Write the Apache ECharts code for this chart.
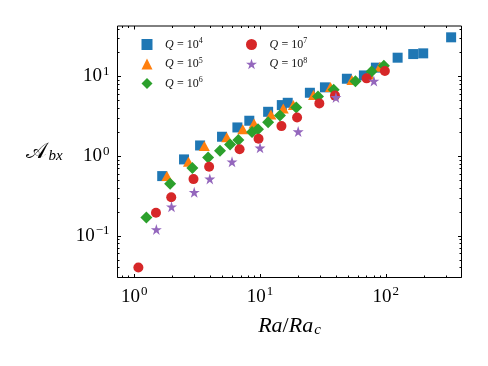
<!DOCTYPE html>
<html>
<head>
<meta charset="utf-8">
<script src="https://cdn.jsdelivr.net/npm/echarts@6/dist/echarts.min.js"></script>
<style>
  html, body { margin: 0; padding: 0; background: #fff; }
  #chart { width: 488px; height: 366px; }
</style>
</head>
<body>
<div id="chart"></div>
<script>
// Q = 10^4 .. 10^8, x = Ra/Ra_c, y = A_bx
const qExps = [4, 5, 6, 7, 8];

const q4Ra = [1.67, 2.49, 3.34, 4.99, 6.61, 8.22, 11.6, 14.9, 16.6, 24.9, 32.8, 49.0, 66.9, 83.3, 124, 165, 198, 330];
const q4A  = [0.561, 0.909, 1.36, 1.75, 2.29, 2.78, 3.60, 4.37, 4.67, 6.24, 7.30, 9.36, 10.3, 12.9, 17.2, 19.1, 19.5, 31.0];

const q5Ra = [1.82, 2.70, 3.61, 5.44, 7.29, 8.96, 12.2, 15.3, 18.4, 26.6, 36.3, 53.7, 73.7, 89.6];
const q5A  = [0.561, 0.848, 1.34, 1.72, 2.18, 2.57, 3.34, 3.97, 4.37, 5.84, 7.36, 9.01, 10.6, 13.2];

const q6Ra = [1.25, 1.93, 2.90, 3.87, 4.81, 5.78, 6.73, 8.64, 9.64, 11.6, 14.4, 19.4, 28.9, 38.5, 57.3, 77.0, 96.4];
const q6A  = [0.170, 0.451, 0.707, 0.963, 1.17, 1.40, 1.59, 2.00, 2.17, 2.67, 3.23, 4.07, 5.62, 6.81, 8.68, 11.5, 13.6];

const q7Ra = [1.08, 1.49, 1.97, 2.96, 3.94, 6.88, 9.73, 14.8, 19.7, 29.6, 39.4, 70.3, 98.2];
const q7A  = [0.040, 0.194, 0.305, 0.514, 0.734, 1.22, 1.65, 2.38, 3.06, 4.59, 5.75, 9.46, 11.7];

const q8Ra = [1.50, 1.98, 3.00, 3.99, 5.99, 10.0, 20.1, 40.1, 80.3];
const q8A  = [0.120, 0.231, 0.351, 0.517, 0.848, 1.27, 2.03, 5.46, 8.75];

// tick values
const xMajor = [1, 10, 100];
const xMinor = [0.8, 0.9, 2, 3, 4, 5, 6, 7, 8, 9, 20, 30, 40, 50, 60, 70, 80, 90, 200, 300];
const yMajor = [0.1, 1, 10];
const yMinor = [0.03, 0.04, 0.05, 0.06, 0.07, 0.08, 0.09, 0.2, 0.3, 0.4, 0.5, 0.6, 0.7, 0.8, 0.9,
                2, 3, 4, 5, 6, 7, 8, 9, 20, 30, 40];

const xMin = 0.737, xMax = 399;
const yMin = 0.0299, yMax = 43;

const starPath = 'path://M0,-1L0.2245,-0.309L0.951,-0.309L0.363,0.118L0.588,0.809L0,0.382L-0.588,0.809L-0.363,0.118L-0.951,-0.309L-0.2245,-0.309Z';

const serif = 'Liberation Serif';
const zip = (a, b) => a.map((v, i) => [v, b[i]]);
const qName = e => 'Q = 10^' + e;

const seriesDefs = [
  { x: q4Ra, y: q4A, color: '#1f77b4', symbol: 'rect', size: 10 },
  { x: q5Ra, y: q5A, color: '#ff7f0e', symbol: 'triangle', size: [11, 10] },
  { x: q6Ra, y: q6A, color: '#2ca02c', symbol: 'diamond', size: 12 },
  { x: q7Ra, y: q7A, color: '#d62728', symbol: 'circle', size: 10 },
  { x: q8Ra, y: q8A, color: '#9467bd', symbol: starPath, size: 11 }
];

function powLabel(v) {
  const l = Math.log10(v);
  const e = Math.round(l);
  if (Math.abs(l - e) > 1e-6) return '';
  return '{b|10}{s|' + String(e).replace('-', '\u2212') + '}';
}

const labelRich = {
  b: { fontFamily: serif, fontSize: 19, color: '#000' },
  s: { fontFamily: serif, fontSize: 13, color: '#000', padding: [0, 0, 10, 1] }
};

const legendText = {
  rich: {
    q: { fontFamily: serif, fontStyle: 'italic', fontSize: 12, color: '#111', padding: [0, 0, 0, 7.5] },
    t: { fontFamily: serif, fontSize: 12, color: '#111' },
    s: { fontFamily: serif, fontSize: 8, color: '#111', padding: [0, 0, 7, 0] }
  }
};
const legendFmt = name => '{q|Q} {t|= 10}{s|' + name.split('^')[1] + '}';

const chart = echarts.init(document.getElementById('chart'));

const option = {
  animation: false,
  grid: {
    left: 117.5, right: 26.5, top: 26, bottom: 88.5,
    show: true, borderColor: '#000', borderWidth: 1, backgroundColor: 'transparent'
  },
  legend: [
    {
      data: qExps.slice(0, 3).map(qName),
      orient: 'vertical', left: 136.5, top: 32,
      itemWidth: 11, itemHeight: 11, itemGap: 6,
      formatter: legendFmt, textStyle: legendText
    },
    {
      data: qExps.slice(3).map(qName),
      orient: 'vertical', left: 241, top: 32,
      itemWidth: 11, itemHeight: 11, itemGap: 6,
      formatter: legendFmt, textStyle: legendText
    }
  ],
  xAxis: {
    type: 'log', logBase: 10, min: xMin, max: xMax,
    splitLine: { show: false },
    axisLine: { show: false },
    axisTick: { show: false },
    axisLabel: { formatter: powLabel, rich: labelRich, margin: 8, showMinLabel: false, showMaxLabel: false },
    name: '{i|Ra}{n|/}{i|Ra}{c|c}',
    nameLocation: 'middle', nameGap: 37,
    nameTextStyle: {
      rich: {
        i: { fontFamily: serif, fontStyle: 'italic', fontSize: 22, color: '#000' },
        n: { fontFamily: serif, fontSize: 22, color: '#000' },
        c: { fontFamily: serif, fontStyle: 'italic', fontSize: 15, color: '#000', padding: [8, 0, 0, 1] }
      }
    }
  },
  yAxis: {
    type: 'log', logBase: 10, min: yMin, max: yMax,
    splitLine: { show: false },
    axisLine: { show: false },
    axisTick: { show: false },
    axisLabel: { formatter: powLabel, rich: labelRich, margin: 8, showMinLabel: false, showMaxLabel: false },
    name: '{a|\uD835\uDC9C}{b|bx}',
    nameLocation: 'middle', nameGap: 73, nameRotate: 0,
    nameTextStyle: {
      align: 'center', verticalAlign: 'middle',
      rich: {
        a: { fontFamily: serif, fontSize: 22, color: '#000' },
        b: { fontFamily: serif, fontStyle: 'italic', fontSize: 15, color: '#000', padding: [9, 0, 0, 1] }
      }
    }
  },
  series: seriesDefs.map((d, i) => ({
    name: qName(qExps[i]),
    type: 'scatter',
    symbol: d.symbol,
    symbolSize: d.size,
    itemStyle: { color: d.color, opacity: 1 },
    data: zip(d.x, d.y),
    z: 2 + i
  }))
};

chart.setOption(option);

// inward ticks on all four sides, placed through the axis scales
function addTicks() {
  const toX = v => chart.convertToPixel({ xAxisIndex: 0 }, v);
  const toY = v => chart.convertToPixel({ yAxisIndex: 0 }, v);
  const left = toX(xMin), right = toX(xMax);
  const top = toY(yMax), bottom = toY(yMin);
  const els = [];
  const line = (x1, y1, x2, y2) => els.push({
    type: 'line', silent: true, z: 100,
    shape: { x1, y1, x2, y2 },
    style: { stroke: '#000', lineWidth: 1 }
  });
  const xt = (vals, len) => vals.forEach(v => {
    const p = Math.round(toX(v)) + 0.5;
    line(p, bottom, p, bottom - len);
    line(p, top, p, top + len);
  });
  const yt = (vals, len) => vals.forEach(v => {
    const p = Math.round(toY(v)) + 0.5;
    line(left, p, left + len, p);
    line(right, p, right - len, p);
  });
  xt(xMajor, 3.5); xt(xMinor, 2);
  yt(yMajor, 3.5); yt(yMinor, 2);
  chart.setOption({ graphic: els });
}
addTicks();
</script>
</body>
</html>
